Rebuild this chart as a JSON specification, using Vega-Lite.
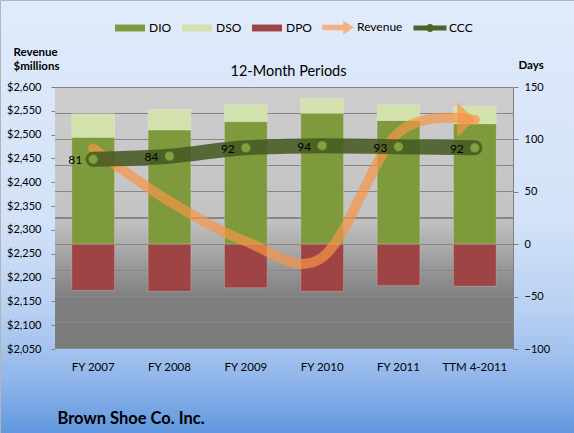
{
  "$schema": "https://vega.github.io/schema/vega-lite/v6.json",
  "width": 574,
  "height": 433,
  "autosize": {"type": "none"},
  "padding": 0,
  "view": {"stroke": "#B4B4B4", "strokeWidth": 1, "fill": {"gradient": "linear", "x1": 0, "y1": 0, "x2": 0, "y2": 1, "stops": [{"offset": 0, "color": "#E0EBFA"}, {"offset": 0.5, "color": "#D3E2F8"}, {"offset": 0.7, "color": "#BBD2F3"}, {"offset": 0.8, "color": "#A6C4EF"}, {"offset": 0.9, "color": "#88B0E8"}, {"offset": 1, "color": "#5F97DF"}]}},
  "config": {
    "font": "Lato",
    "axis": {"labelFont": "Lato", "titleFont": "Lato", "labelColor": "#000000", "titleColor": "#000000", "labelFontSize": 11}
  },
  "datasets": {
    "bars": [
      {"period": "FY 2007", "series": "DIO", "days": 102},
      {"period": "FY 2007", "series": "DSO", "days": 22.5},
      {"period": "FY 2007", "series": "DPO", "days": -44},
      {"period": "FY 2008", "series": "DIO", "days": 109},
      {"period": "FY 2008", "series": "DSO", "days": 19.5},
      {"period": "FY 2008", "series": "DPO", "days": -45},
      {"period": "FY 2009", "series": "DIO", "days": 117},
      {"period": "FY 2009", "series": "DSO", "days": 16},
      {"period": "FY 2009", "series": "DPO", "days": -41.5},
      {"period": "FY 2010", "series": "DIO", "days": 125},
      {"period": "FY 2010", "series": "DSO", "days": 14},
      {"period": "FY 2010", "series": "DPO", "days": -45},
      {"period": "FY 2011", "series": "DIO", "days": 118},
      {"period": "FY 2011", "series": "DSO", "days": 15},
      {"period": "FY 2011", "series": "DPO", "days": -39.5},
      {"period": "TTM 4-2011", "series": "DIO", "days": 115},
      {"period": "TTM 4-2011", "series": "DSO", "days": 16.5},
      {"period": "TTM 4-2011", "series": "DPO", "days": -40}
    ],
    "summary": [
      {"period": "FY 2007", "revenue": 2471, "ccc": 81},
      {"period": "FY 2008", "revenue": 2360, "ccc": 84},
      {"period": "FY 2009", "revenue": 2276, "ccc": 92},
      {"period": "FY 2010", "revenue": 2242, "ccc": 94},
      {"period": "FY 2011", "revenue": 2504, "ccc": 93},
      {"period": "TTM 4-2011", "revenue": 2531, "ccc": 92}
    ]
  },
  "layer": [
    {
      "data": {"values": [{}]},
      "mark": {"type": "rect", "fill": {"gradient": "linear", "x1": 0, "y1": 0, "x2": 0, "y2": 1, "stops": [
        {"offset": 0, "color": "#868686"}, {"offset": 0.004, "color": "#868686"}, {"offset": 0.004, "color": "#CDCDCD"},
        {"offset": 0.098, "color": "#CBCBCB"}, {"offset": 0.098, "color": "#868686"}, {"offset": 0.102, "color": "#868686"}, {"offset": 0.102, "color": "#CBCBCB"},
        {"offset": 0.198, "color": "#C9C9C9"}, {"offset": 0.198, "color": "#868686"}, {"offset": 0.202, "color": "#868686"}, {"offset": 0.202, "color": "#C9C9C9"},
        {"offset": 0.298, "color": "#C7C7C7"}, {"offset": 0.298, "color": "#868686"}, {"offset": 0.302, "color": "#868686"}, {"offset": 0.302, "color": "#C7C7C7"},
        {"offset": 0.398, "color": "#C5C5C5"}, {"offset": 0.398, "color": "#868686"}, {"offset": 0.402, "color": "#868686"}, {"offset": 0.402, "color": "#C5C5C5"},
        {"offset": 0.498, "color": "#C3C3C3"}, {"offset": 0.498, "color": "#868686"}, {"offset": 0.502, "color": "#868686"}, {"offset": 0.502, "color": "#C3C3C3"},
        {"offset": 0.598, "color": "#ADADAD"}, {"offset": 0.598, "color": "#868686"}, {"offset": 0.602, "color": "#868686"}, {"offset": 0.602, "color": "#ADADAD"},
        {"offset": 0.698, "color": "#969696"}, {"offset": 0.698, "color": "#868686"}, {"offset": 0.702, "color": "#868686"}, {"offset": 0.702, "color": "#969696"},
        {"offset": 0.798, "color": "#808080"}, {"offset": 0.798, "color": "#8A8A8A"}, {"offset": 0.802, "color": "#8A8A8A"}, {"offset": 0.802, "color": "#808080"},
        {"offset": 0.898, "color": "#7D7D7D"}, {"offset": 0.898, "color": "#8A8A8A"}, {"offset": 0.902, "color": "#8A8A8A"}, {"offset": 0.902, "color": "#7D7D7D"},
        {"offset": 0.996, "color": "#7A7A7A"}, {"offset": 0.996, "color": "#8A8A8A"}, {"offset": 1, "color": "#8A8A8A"}
      ]}},
      "encoding": {
        "x": {"datum": 0, "type": "quantitative", "scale": {"domain": [0, 1], "range": [55, 513], "nice": false, "zero": false}, "axis": null},
        "x2": {"datum": 1},
        "y": {"datum": 2050, "type": "quantitative", "scale": {"domain": [2050, 2600], "range": [349, 87], "nice": false, "zero": false}, "axis": null},
        "y2": {"datum": 2600}
      }
    },
    {
      "data": {"name": "bars"},
      "mark": {"type": "bar", "stroke": "#FFFFFF", "strokeOpacity": 0.2, "strokeWidth": 1},
      "encoding": {
        "x": {
          "field": "period", "type": "nominal",
          "sort": ["FY 2007", "FY 2008", "FY 2009", "FY 2010", "FY 2011", "TTM 4-2011"],
          "scale": {"domain": ["FY 2007", "FY 2008", "FY 2009", "FY 2010", "FY 2011", "TTM 4-2011"], "range": [55, 513], "paddingInner": 0.44, "paddingOuter": 0.22},
          "axis": {
            "orient": "bottom", "offset": -84, "labelAngle": 0, "ticks": false, "domain": false, "grid": false, "labelPadding": 12, "labelFontSize": 11.5,
            "title": "Brown Shoe Co. Inc.", "titleFontSize": 16.5, "titleFontWeight": "bold", "titleAnchor": "start", "titleAlign": "left",
            "titleX": 57, "titleY": 74, "titleBaseline": "alphabetic"
          }
        },
        "y": {
          "field": "days", "type": "quantitative", "stack": "zero",
          "scale": {"domain": [-100, 150], "range": [349, 87], "nice": false, "zero": false},
          "axis": {
            "orient": "right", "offset": -61, "values": [-100, -50, 0, 50, 100, 150], "grid": false, "domainColor": "#808080", "tickColor": "#808080", "tickSize": 5, "labelPadding": 6,
            "title": "Days", "titleAngle": 0, "titleAlign": "left", "titleBaseline": "top", "titleX": 5, "titleY": 59, "titleFontSize": 11.5, "titleFontWeight": "bold"
          }
        },
        "order": {"field": "series", "sort": "ascending"},
        "color": {
          "field": "series", "type": "nominal",
          "scale": {"domain": ["DIO", "DSO", "DPO", "Revenue", "CCC"], "range": ["#7E9A3C", "#D3E1AD", "#9E4444", "#F4B183", "#4F6228"]},
          "legend": {
            "orient": "none", "legendX": 115, "legendY": 12, "direction": "horizontal", "title": null,
            "symbolSize": 900, "symbolStrokeWidth": 0,
            "labelFontSize": 12, "labelFont": "Lato", "labelColor": "#000000", "labelOffset": 4, "columnPadding": 10
          }
        }
      }
    },
    {
      "data": {"name": "summary"},
      "encoding": {
        "x": {
          "field": "period", "type": "nominal",
          "sort": ["FY 2007", "FY 2008", "FY 2009", "FY 2010", "FY 2011", "TTM 4-2011"],
          "scale": {"domain": ["FY 2007", "FY 2008", "FY 2009", "FY 2010", "FY 2011", "TTM 4-2011"], "range": [55, 513], "paddingInner": 0.44, "paddingOuter": 0.22},
          "axis": null
        },
        "y": {
          "field": "revenue", "type": "quantitative",
          "scale": {"domain": [2050, 2600], "range": [349, 87], "nice": false, "zero": false},
          "axis": {
            "orient": "left", "offset": -55, "values": [2050, 2100, 2150, 2200, 2250, 2300, 2350, 2400, 2450, 2500, 2550, 2600], "format": "$,.0f",
            "grid": false, "domainColor": "#DADADA", "tickColor": "#808080", "tickSize": 4, "labelPadding": 10,
            "title": ["Revenue", "$millions"], "titleAngle": 0, "titleAlign": "left", "titleBaseline": "top", "titleX": -42, "titleY": 46,
            "titleFontSize": 11.5, "titleFontWeight": "bold", "titleLineHeight": 14
          }
        }
      },
      "layer": [
        {"mark": {"type": "line", "interpolate": "cardinal", "strokeWidth": 10, "color": "#F79646", "opacity": 0.7, "strokeCap": "round"}},
        {
          "transform": [{"filter": "datum.period === 'TTM 4-2011'"}],
          "mark": {"type": "point", "shape": "M0,0L-1,-1L-1,1Z", "size": 1225, "filled": true, "color": "#F79646", "opacity": 0.7, "strokeWidth": 0}
        }
      ]
    },
    {
      "data": {"name": "summary"},
      "encoding": {
        "x": {
          "field": "period", "type": "nominal",
          "sort": ["FY 2007", "FY 2008", "FY 2009", "FY 2010", "FY 2011", "TTM 4-2011"],
          "scale": {"domain": ["FY 2007", "FY 2008", "FY 2009", "FY 2010", "FY 2011", "TTM 4-2011"], "range": [55, 513], "paddingInner": 0.44, "paddingOuter": 0.22},
          "axis": null
        },
        "y": {
          "field": "ccc", "type": "quantitative", "scale": {"domain": [-100, 150], "range": [349, 87], "nice": false, "zero": false},
          "axis": {"orient": "left", "offset": -55, "labels": false, "ticks": false, "domain": false, "grid": false, "title": "12-Month Periods", "titleAngle": 0, "titleAlign": "center", "titleBaseline": "alphabetic", "titleX": 233, "titleY": 75, "titleFontSize": 14.5, "titleFontWeight": "normal"}
        }
      },
      "layer": [
        {"mark": {"type": "line", "interpolate": "monotone", "strokeWidth": 15, "color": "#465A22", "opacity": 0.88, "strokeCap": "round"}},
        {"mark": {"type": "point", "filled": true, "size": 90, "color": "#83A13E", "stroke": "#55702A", "strokeWidth": 0.6, "opacity": 1}},
        {"mark": {"type": "text", "align": "right", "baseline": "middle", "dx": -11, "dy": 1, "fontSize": 12, "font": "Lato", "color": "#000000"}, "encoding": {"text": {"field": "ccc", "type": "quantitative"}}},
        {
          "data": {"name": "bars"},
          "transform": [{"filter": "datum.days > 1000"}],
          "mark": {"type": "point", "filled": true},
          "encoding": {
            "y": {"field": "days", "type": "quantitative"},
            "shape": {
              "field": "series", "type": "nominal",
              "scale": {"domain": ["DIO", "DSO", "DPO", "Revenue", "CCC"], "range": ["M-1,-0.23H1V0.23H-1Z", "M-1,-0.23H1V0.23H-1Z", "M-1,-0.23H1V0.23H-1Z", "M-1.05,-0.19H0.35V-0.47L1.05,0L0.35,0.47V0.19H-1.05Z", "M-1.1,-0.17H1.1V0.17H-1.1Z M0.27,0 A0.27,0.27 0 1,1 -0.27,0 A0.27,0.27 0 1,1 0.27,0Z"]},
              "legend": {
                "orient": "none", "legendX": 115, "legendY": 12, "direction": "horizontal", "title": null,
                "symbolSize": 900, "symbolStrokeWidth": 0,
                "labelFontSize": 12, "labelFont": "Lato", "labelColor": "#000000", "labelOffset": 4, "columnPadding": 10
              }
            }
          }
        }
      ]
    }
  ],
  "resolve": {"scale": {"x": "independent", "y": "independent"}}
}
